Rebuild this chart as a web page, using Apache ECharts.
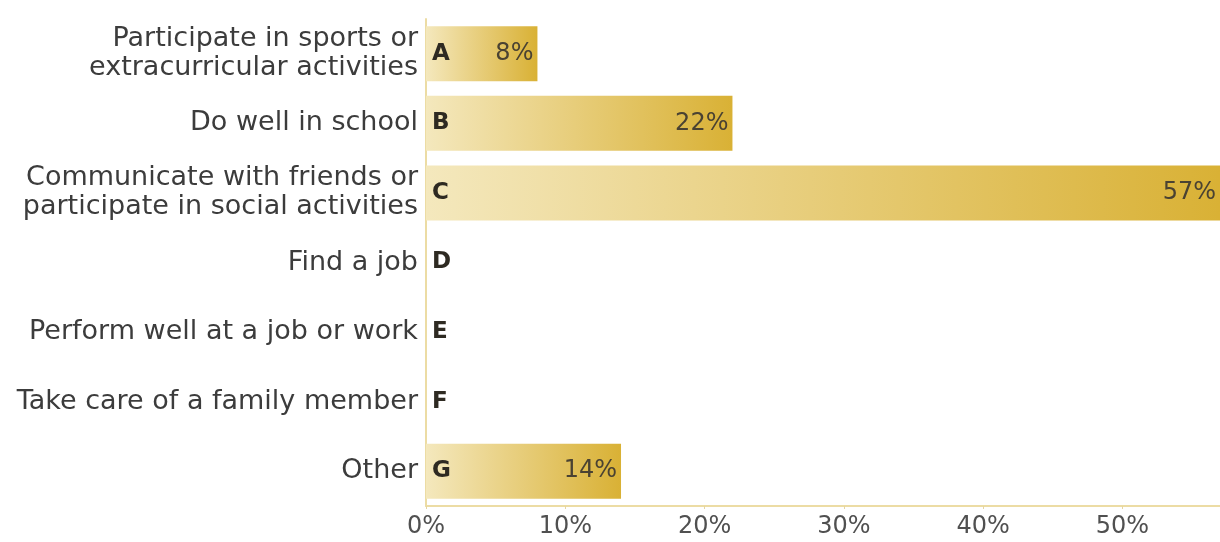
<!DOCTYPE html>
<html>
<head>
<meta charset="utf-8">
<script src="https://cdn.jsdelivr.net/npm/echarts@6/dist/echarts.min.js"></script>
<style>
html,body{margin:0;padding:0;background:#fff;}
#chart{width:1220px;height:542px;}
</style>
</head>
<body>
<div id="chart"></div>
<script>
const categories = [
  "Participate in sports or\nextracurricular activities",
  "Do well in school",
  "Communicate with friends or\nparticipate in social activities",
  "Find a job",
  "Perform well at a job or work",
  "Take care of a family member",
  "Other"
];
const letters = ["A", "B", "C", "D", "E", "F", "G"];
const values = [8, 22, 57, 0, 0, 0, 14];
const xTicks = [0, 10, 20, 30, 40, 50];

const FONT = "'DejaVu Sans', sans-serif";
const chart = echarts.init(document.getElementById('chart'), null, {renderer: 'canvas'});

const gradient = new echarts.graphic.LinearGradient(0, 0, 1, 0, [
  {offset: 0, color: '#f4e8bd'},
  {offset: 0.3, color: '#ecd793'},
  {offset: 1, color: '#d9b135'}
]);

chart.setOption({
  animation: false,
  backgroundColor: '#ffffff',
  grid: {left: 426, right: -4, top: 19, bottom: 36, containLabel: false},
  xAxis: {
    type: 'value',
    min: 0,
    max: 57,
    interval: 10,
    axisLine: {show: true, lineStyle: {color: '#ecdca4', width: 2}},
    axisTick: {show: true, length: 3, lineStyle: {color: '#e6d6a0'}},
    splitLine: {show: false},
    axisLabel: {
      showMaxLabel: false,
      color: '#505050',
      fontFamily: FONT,
      fontSize: 24,
      margin: 9,
      formatter: function (v) { return xTicks.indexOf(v) >= 0 ? v + '%' : ''; }
    }
  },
  yAxis: {
    type: 'category',
    inverse: true,
    data: categories,
    axisLine: {show: true, lineStyle: {color: '#ecdca4', width: 2}},
    axisTick: {show: false},
    axisLabel: {
      color: '#3c3c3c',
      fontFamily: FONT,
      fontSize: 27,
      lineHeight: 29,
      margin: 8,
      align: 'right'
    }
  },
  series: [
    {
      type: 'bar',
      data: values,
      barWidth: 55,
      itemStyle: {color: gradient},
      label: {
        show: true,
        position: 'insideRight',
        distance: 4,
        color: '#4a4232',
        fontFamily: FONT,
        fontSize: 24,
        formatter: function (p) { return p.value > 0 ? p.value + '%' : ''; }
      }
    },
    {
      type: 'bar',
      data: values,
      barWidth: 55,
      barGap: '-100%',
      silent: true,
      itemStyle: {color: 'rgba(0,0,0,0)'},
      label: {
        show: true,
        position: 'insideLeft',
        distance: 6,
        color: '#2e2a22',
        fontFamily: FONT,
        fontWeight: 'bold',
        fontSize: 23,
        formatter: function (p) { return letters[p.dataIndex]; }
      }
    }
  ]
});
</script>
</body>
</html>
